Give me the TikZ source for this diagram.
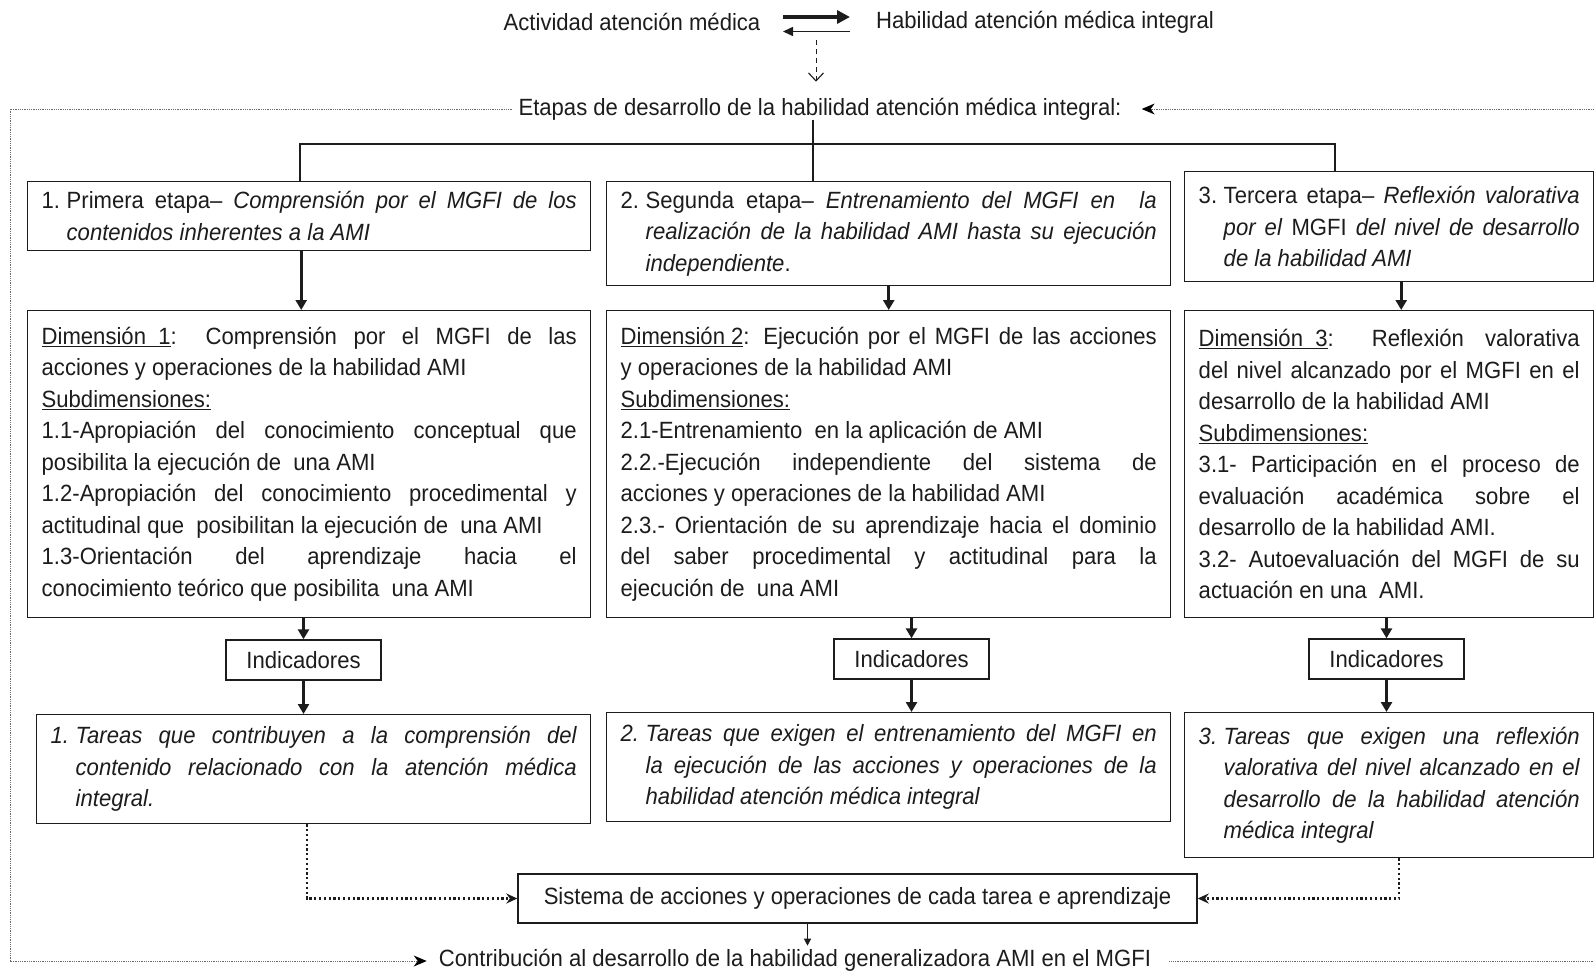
\documentclass[tikz,border=0pt]{standalone}
\usepackage{fontspec}
\setmainfont{Liberation Sans}[FakeStretch=0.94]
\usetikzlibrary{arrows.meta}
\definecolor{ink}{HTML}{1C1C1C}
\definecolor{loopgray}{HTML}{6A6A6A}
\newcommand\dfont{\fontsize{23.5pt}{31.5pt}\selectfont}
\newcommand\itemnum[1]{\makebox[25pt][l]{#1}}
\newcommand\hangit{\hangindent=25pt\hangafter=1\relax}
\hbadness=10000
\begin{document}
\begin{tikzpicture}[x=1pt,y=-1pt,
  every node/.style={text=ink},
  box/.style={draw=ink, line width=1.4pt, anchor=north west, inner xsep=14pt,
    inner ysep=2pt, align=justify, font={\dfont\setlength{\parindent}{0pt}}},
  plain/.style={font=\dfont, inner sep=0pt},
  ind/.style={draw=ink, line width=1.4pt, font=\dfont, minimum width=155pt,
    minimum height=40pt, inner sep=0pt},
  heavy/.style={draw=ink, line width=2.6pt, -{Triangle[length=10pt,width=11pt]}},
  branch/.style={draw=ink, line width=1.4pt},
  dotflow/.style={draw=ink, line width=2.2pt, dash pattern=on 2.2pt off 2.6pt,
    -{Stealth[length=11pt,width=10pt]}},
  fb/.style={draw=loopgray, line width=0.9pt, dash pattern=on 1pt off 0.8pt},
  fbtip/.style={-{Stealth[length=13pt,width=11pt,inset=4pt,color=black,line width=0pt]}}
]
\useasboundingbox (0,0) rectangle (1594,974);

% --- heading: activity and skill ---
\node[plain] (act) at (632,22) {Actividad atención médica};
\node[plain] (hab) at (1045,22) {Habilidad atención médica integral};
\coordinate (ra) at (783,17);
\coordinate (rb) at (850,17);
\coordinate (la) at (850,31.5);
\coordinate (lb) at (783,31.5);
\draw[draw=ink, line width=4pt, -{Triangle[length=13pt,width=13pt]}] (ra) -- (rb);
\draw[draw=ink, line width=1.6pt, -{Triangle[length=10pt,width=9pt]}] (la) -- (lb);

\node[plain] (et) at (820,109) {Etapas de desarrollo de la habilidad atención médica integral:};
\coordinate (ds) at (816,40);
\draw[draw=ink, line width=1pt, dash pattern=on 5pt off 4pt,
  -{Straight Barb[length=8pt,width=15pt,line width=1.1pt]}, shorten >=16pt] (ds) -- (ds |- et.north);

% --- stage boxes ---
\node[box, text width=535pt, minimum height=69pt] (e1) at (27,181) {\hangit\itemnum{1.}Primera etapa– \textit{Comprensión por el MGFI de los\linebreak contenidos inherentes a la AMI}\par};
\node[box, text width=536pt, minimum height=104pt] (e2) at (606,181) {\hangit\itemnum{2.}Segunda etapa– \textit{Entrenamiento del MGFI en\ \ la\linebreak realización de la habilidad AMI hasta su ejecución\linebreak independiente}.\par};
\node[box, text width=381pt, minimum height=110pt] (e3) at (1184,171) {\hangit\itemnum{3.}Tercera etapa– \textit{Reflexión valorativa\linebreak por el} MGFI \textit{del nivel de desarrollo\linebreak de la habilidad AMI}\par};

% branching from the stages heading
\coordinate (b1) at (300,144);
\coordinate (b2) at (813,144);
\coordinate (b3) at (1335,144);
\draw[branch] (b2 |- et.south) -- (b2 |- e2.north);
\draw[branch] (b1 |- e1.north) -- (b1) -- (b3) -- (b3 |- e3.north);

% --- dimension boxes ---
\node[box, text width=535pt, minimum height=307pt] (d1) at (27,310) {%
\underline{Dimensión\ \ 1}: Comprensión por el MGFI de las\linebreak acciones y operaciones de la habilidad AMI\par
\underline{Subdimensiones:}\par
1.1-Apropiación del conocimiento conceptual que\linebreak posibilita la ejecución de\ \ una AMI\par
1.2-Apropiación del conocimiento procedimental y\linebreak actitudinal que\ \ posibilitan la ejecución de\ \ una AMI\par
1.3-Orientación del aprendizaje hacia el\linebreak conocimiento teórico que posibilita\ \ una AMI\par};
\node[box, text width=536pt, minimum height=307pt] (d2) at (606,310) {%
\underline{Dimensión 2}: Ejecución por el MGFI de las acciones\linebreak y operaciones de la habilidad AMI\par
\underline{Subdimensiones:}\par
2.1-Entrenamiento\ \ en la aplicación de AMI\par
2.2.-Ejecución independiente del sistema de\linebreak acciones y operaciones de la habilidad AMI\par
2.3.- Orientación de su aprendizaje hacia el dominio\linebreak del saber procedimental y actitudinal para la\linebreak ejecución de\ \ una AMI\par};
\node[box, text width=381pt, minimum height=307pt] (d3) at (1184,310) {%
\underline{Dimensión\ \ 3}: Reflexión valorativa\linebreak del nivel alcanzado por el MGFI en el\linebreak desarrollo de la habilidad AMI\par
\underline{Subdimensiones:}\par
3.1- Participación en el proceso de\linebreak evaluación académica sobre el\linebreak desarrollo de la habilidad AMI.\par
3.2- Autoevaluación del MGFI de su\linebreak actuación en una\ \ AMI.\par};

\draw[heavy] ([xshift=-8pt]e1.south) -- ([xshift=-8pt]e1.south |- d1.north);
\draw[heavy] (e2.south) -- (e2.south |- d2.north);
\draw[heavy] ([xshift=12pt]e3.south) -- ([xshift=12pt]e3.south |- d3.north);

% --- indicators ---
\node[ind] (i1) at (303.5,660) {Indicadores};
\node[ind] (i2) at (911.5,659) {Indicadores};
\node[ind] (i3) at (1386.5,659) {Indicadores};
\foreach \d/\i in {d1/i1, d2/i2, d3/i3}{
  \draw[heavy] (\i.north |- \d.south) -- (\i.north);
}

% --- task boxes ---
\node[box, text width=526pt, minimum height=109pt] (t1) at (36,714) {\itshape\hangit\itemnum{1.}Tareas que contribuyen a la comprensión del\linebreak contenido relacionado con la atención médica\linebreak integral.\par};
\node[box, text width=536pt, minimum height=109pt] (t2) at (606,712) {\itshape\hangit\itemnum{2.}Tareas que exigen el entrenamiento del MGFI en\linebreak la ejecución de las acciones y operaciones de la\linebreak habilidad atención médica integral\par};
\node[box, text width=381pt, minimum height=145pt] (t3) at (1184,712) {\itshape\hangit\itemnum{3.}Tareas que exigen una reflexión\linebreak valorativa del nivel alcanzado en el\linebreak desarrollo de la habilidad atención\linebreak médica integral\par};

\draw[heavy] (i1.south) -- (i1.south |- t1.north);
\draw[heavy] (i2.south) -- (i2.south |- t2.north);
\draw[heavy] (i3.south) -- (i3.south |- t3.north);

% --- system of actions ---
\node[draw=ink, line width=1.4pt, font=\dfont, minimum width=679pt, minimum height=49pt, inner sep=0pt] (sis) at (857.5,898.5) {Sistema de acciones y operaciones de cada tarea e aprendizaje};
\draw[dotflow] ([xshift=-7pt]t1.south) |- (sis.west);
\draw[dotflow] ([xshift=10pt]t3.south) |- (sis.east);

\node[plain] (con) at (795,960) {Contribución al desarrollo de la habilidad generalizadora AMI en el MGFI};
\draw[draw=ink, line width=1.2pt, -{Triangle[length=7pt,width=7pt]}, shorten >=3pt] ([xshift=-50pt]sis.south) -- ([xshift=-50pt]sis.south |- con.north);

% --- feedback loop around the stages ---
\coordinate (lx) at (10,0);
\coordinate (rx) at (1594,0);
\draw[fb, fbtip] ([xshift=-6pt]et.west) -- (et.west -| lx) -- ([yshift=-1pt]con.west -| lx) -- ([xshift=-12pt,yshift=-1pt]con.west);
\draw[fb] ([xshift=18pt,yshift=-1pt]con.east) -- ([yshift=-1pt]con.east -| rx);
\draw[fb, fbtip] (et.east -| rx) -- ([xshift=20pt]et.east);
\end{tikzpicture}
\end{document}
